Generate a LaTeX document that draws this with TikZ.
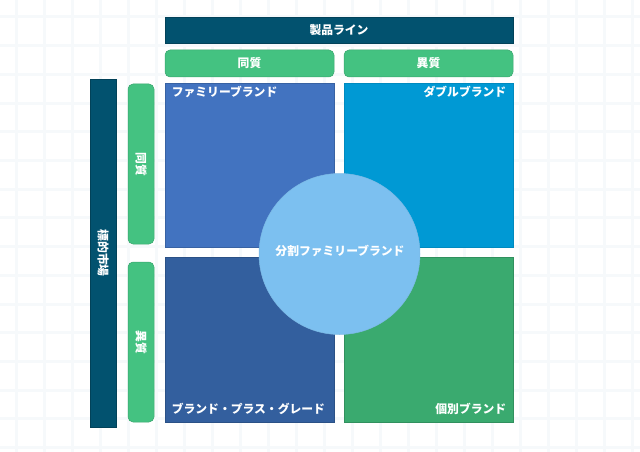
\documentclass[tikz,border=0pt]{standalone}
\usepackage{fontspec}
\setmainfont{Noto Sans CJK JP}
\usepackage{tikz}
\usetikzlibrary{shapes.geometric, backgrounds}
\definecolor{navybar}{RGB}{2,82,111}
\definecolor{pillgreen}{RGB}{68,194,129}
\definecolor{famblue}{RGB}{66,115,192}
\definecolor{dblblue}{RGB}{0,153,212}
\definecolor{plusblue}{RGB}{51,95,158}
\definecolor{indgreen}{RGB}{58,170,111}
\definecolor{splitblue}{RGB}{124,192,240}
\definecolor{gridgray}{RGB}{246,249,251}
\tikzset{
  txt/.style = {text=white, font=\fontsize{11.8}{13}\selectfont\bfseries},
  bar/.style = {txt, fill=navybar, draw=navybar!80!black, line width=0.6pt, inner sep=0pt},
  pill/.style = {txt, fill=pillgreen, draw=pillgreen!85!black, line width=0.5pt, rounded corners=5pt, inner sep=0pt},
  quad/.style = {line width=0.8pt, minimum width=169pt, inner sep=0pt},
  lbl/.style = {txt, inner sep=0pt}
}
\begin{document}
\begin{tikzpicture}[x=1pt, y=-1pt]
\useasboundingbox (0,0) rectangle (640,452);
\foreach \k in {0,...,22}
  \draw[gridgray, line width=3pt] (16+28*\k,0) -- (16+28*\k,452);
\foreach \k in {0,...,15}
  \draw[gridgray, line width=3pt] (0,17+28.7*\k) -- (640,17+28.7*\k);

\node[bar, minimum width=348pt, minimum height=26pt] at (339,30) (p) {製品ライン};
\node[pill, minimum width=169pt, minimum height=27pt] at (249.5,63.5) (p1) {同質};
\node[pill, minimum width=169pt, minimum height=27pt] at (428.5,63.5) (p2) {異質};

\node[bar, minimum width=26pt, minimum height=348pt] at (103,253) (m) {};
\node[lbl, rotate=-90] at (m.center) (mt) {標的市場};
\node[pill, minimum width=26pt, minimum height=160pt] at (141,164) (m1) {};
\node[lbl, rotate=-90] at (m1.center) (m1t) {同質};
\node[pill, minimum width=26pt, minimum height=160pt] at (141,342) (m2) {};
\node[lbl, rotate=-90] at (m2.center) (m2t) {異質};

\node[quad, fill=famblue, draw=famblue!85!black, minimum height=164pt] at (249.5,165) (q1) {};
\node[quad, fill=dblblue, draw=dblblue!90!black, minimum height=164pt] at (428.5,165) (q2) {};
\node[quad, fill=plusblue, draw=plusblue!85!black, minimum height=165pt] at (249.5,339.5) (q3) {};
\node[quad, fill=indgreen, draw=indgreen!85!black, minimum height=165pt] at (428.5,339.5) (q4) {};

\node[lbl, anchor=north west] at ([shift={(7pt,-3pt)}]q1.north west) (t1) {ファミリーブランド};
\node[lbl, anchor=north east] at ([shift={(-7pt,-3pt)}]q2.north east) (t2) {ダブルブランド};
\node[lbl, anchor=south west] at ([shift={(7pt,8pt)}]q3.south west) (t3) {ブランド・プラス・グレード};
\node[lbl, anchor=south east] at ([shift={(-7pt,8pt)}]q4.south east) (t4) {個別ブランド};

\node[circle, fill=splitblue, draw=splitblue!90!gray, line width=0.5pt, minimum size=161pt, inner sep=0pt] at (339.5,254) (c) {};
\node[lbl] at (340,251) (ct) {分割ファミリーブランド};
\end{tikzpicture}
\end{document}
